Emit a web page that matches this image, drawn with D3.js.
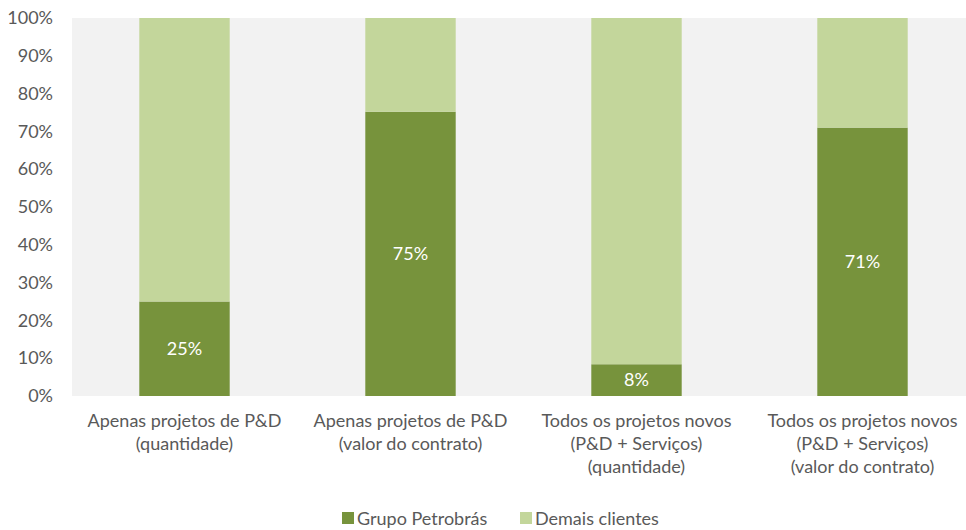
<!DOCTYPE html>
<html>
<head>
<meta charset="utf-8">
<script src="https://cdn.jsdelivr.net/npm/d3@7"></script>
<style>
  body { margin: 0; background: #fff; }
  text { font-family: Lato, "Open Sans", sans-serif; fill: #595959; }
</style>
</head>
<body>
<svg id="chart" width="966" height="530"></svg>
<script>
// categories (each one split in lines)
const categories = [
  ["Apenas projetos de P&D", "(quantidade)"],
  ["Apenas projetos de P&D", "(valor do contrato)"],
  ["Todos os projetos novos", "(P&D + Serviços)", "(quantidade)"],
  ["Todos os projetos novos", "(P&D + Serviços)", "(valor do contrato)"]
];
const petrobras = [25, 75.2, 8.4, 71];
const demais = [75, 24.8, 91.6, 29];
const seriesNames = ["Grupo Petrobrás", "Demais clientes"];
const colors = ["#77933c", "#c3d69b"];
const yTicks = [0, 10, 20, 30, 40, 50, 60, 70, 80, 90, 100];

const svg = d3.select('#chart');
const plotTop = 18, plotBottom = 396, plotLeft = 72, plotRight = 966;
const fs = '18px';

const x = d3.scaleBand()
  .domain(d3.range(categories.length))
  .range([71.5, 975.5])
  .paddingInner(0.6)
  .paddingOuter(0.3);

const y = d3.scaleLinear().domain([0, 100]).range([plotBottom, plotTop]);

// plot background
svg.append('rect')
  .attr('x', plotLeft).attr('y', plotTop)
  .attr('width', plotRight - plotLeft).attr('height', plotBottom - plotTop)
  .attr('fill', '#f2f2f2');

// stacked data
const rows = categories.map((c, i) => ({ i, a: petrobras[i], b: demais[i] }));
const stack = d3.stack().keys(['a', 'b'])(rows);

svg.selectAll('g.layer')
  .data(stack)
  .enter()
  .append('g')
  .attr('fill', (d, k) => colors[k])
  .selectAll('rect')
  .data(d => d)
  .enter()
  .append('rect')
  .attr('x', d => x(d.data.i))
  .attr('width', x.bandwidth())
  .attr('y', d => y(d[1]))
  .attr('height', d => y(d[0]) - y(d[1]));

// value labels in the dark segment
svg.selectAll('text.val')
  .data(petrobras)
  .enter()
  .append('text')
  .attr('class', 'val')
  .attr('x', (d, i) => x(i) + x.bandwidth() / 2)
  .attr('y', d => y(d / 2) + 6)
  .attr('text-anchor', 'middle')
  .style('fill', '#fff')
  .style('font-size', fs)
  .text(d => Math.round(d) + '%');

// y axis (no line)
const yAxis = svg.append('g')
  .attr('transform', `translate(${plotLeft},0)`)
  .call(d3.axisLeft(y).tickValues(yTicks).tickFormat(d => d + '%').tickSize(0).tickPadding(19));
yAxis.select('.domain').remove();
yAxis.selectAll('text')
  .style('font-size', fs)
  .style('fill', '#595959')
  .style('font-family', 'Lato, sans-serif');

// category labels
const cat = svg.selectAll('text.cat')
  .data(categories)
  .enter()
  .append('text')
  .attr('class', 'cat')
  .attr('text-anchor', 'middle')
  .style('font-size', fs);
cat.selectAll('tspan')
  .data((d, i) => d.map(line => ({ line, i })))
  .enter()
  .append('tspan')
  .attr('x', d => x(d.i) + x.bandwidth() / 2)
  .attr('y', (d, j) => 427 + j * 23)
  .text(d => d.line);

// legend
const legendX = [342, 520];
const legend = svg.selectAll('g.legend')
  .data(seriesNames)
  .enter()
  .append('g')
  .attr('transform', (d, i) => `translate(${legendX[i]},512)`);
legend.append('rect')
  .attr('width', 12).attr('height', 12)
  .attr('fill', (d, i) => colors[i]);
legend.append('text')
  .attr('x', 15).attr('y', 12.5)
  .style('font-size', fs)
  .text(d => d);
</script>
</body>
</html>
